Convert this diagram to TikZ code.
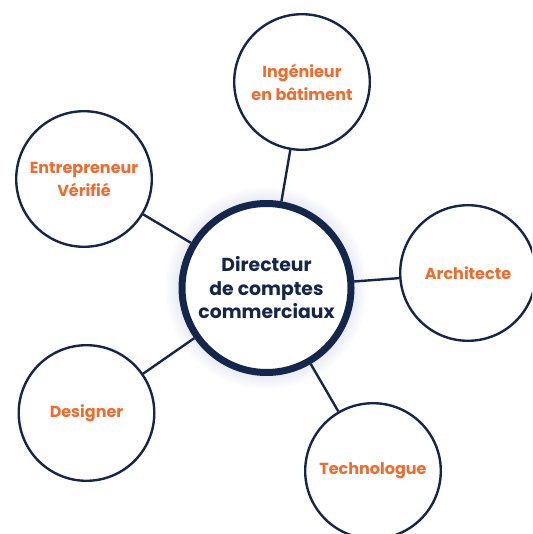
\documentclass[tikz,border=0pt]{standalone}
\usepackage{fontspec}
\setmainfont{Poppins}
\definecolor{navy}{HTML}{14264B}
\definecolor{orng}{HTML}{F26A2C}
\definecolor{glow}{HTML}{3A4FA0}
\begin{document}
\begin{tikzpicture}[x=1pt,y=-1pt,
  leaf/.style={circle, draw=navy, line width=2.4pt, fill=white, minimum size=135.6pt, inner sep=0pt,
    text=orng, font=\bfseries\fontsize{16}{23}\selectfont, align=center},
  hub/.style={circle, draw=navy, line width=7pt, fill=white, minimum size=169pt, inner sep=0pt,
    text=navy, font=\bfseries\fontsize{18.8}{23.5}\selectfont, align=center},
  link/.style={draw=navy, line width=2.4pt}]
\useasboundingbox (0,0) rectangle (532,534);
\clip (0,0) rectangle (532,534);
\coordinate (hc) at (266.5,288);
\foreach \r in {89,91,...,101}{
  \fill[glow, opacity=0.014] (hc) circle (\r);
}
\node[hub] (hub) at (hc) {Directeur\\de comptes\\commerciaux};
\node[leaf] (ing) at (302,82) {Ingénieur\\en bâtiment};
\node[leaf] (ent) at (84,179) {Entrepreneur\\Vérifié};
\node[leaf] (arc) at (468,273) {Architecte};
\node[leaf] (des) at (86.5,413) {Designer};
\node[leaf] (tec) at (373,471) {Technologue};
\foreach \n in {ing,ent,arc,des,tec}{
  \draw[link] (hub) -- (\n);
}
\end{tikzpicture}
\end{document}
